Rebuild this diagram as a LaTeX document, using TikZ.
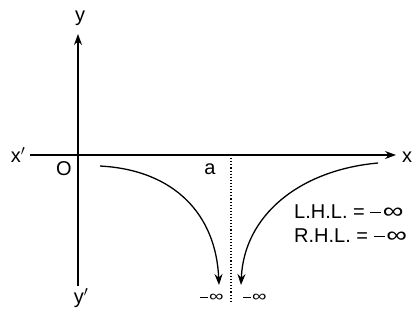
\documentclass[tikz,border=0pt]{standalone}
\usepackage{fontspec}
\setmainfont{Liberation Sans}
\usetikzlibrary{arrows.meta}
\newcommand{\minf}{\raisebox{0.27em}{\rule{0.55em}{0.075em}}\kern0.08em\scalebox{1.45}[1.1]{∞}}
\begin{document}
\begin{tikzpicture}[x=1pt,y=-1pt,
  axis/.style={line width=1.3pt,-{Stealth[length=11pt,width=8pt]}},
  curve/.style={line width=1.3pt,-{Stealth[length=11pt,width=8pt]}},
  lbl/.style={font=\fontsize{20}{22}\selectfont,inner sep=0pt},
  small/.style={font=\fontsize{14}{16}\selectfont,inner sep=0pt}]
\useasboundingbox (0,0) rectangle (417,325);
\coordinate (xs) at (30,155);
\coordinate (xe) at (396,155);
\coordinate (ys) at (78,286);
\coordinate (ye) at (78,34);
\draw[axis] (xs) -- (xe);
\draw[axis] (ys) -- (ye);
\node[lbl] (xl) at (407,157) {x};
\node[lbl] (xpl) at (18,155) {x$'$};
\node[lbl] (yl) at (80,18) {y};
\node[lbl] (ypl) at (81,298) {y$'$};
\node[lbl] (o) at (64,169) {O};
\node[lbl] (a) at (210,169) {a};
\coordinate (dt) at (231,155);
\coordinate (db) at (231,302);
\draw[line width=1.1pt,dotted] (dt) -- (db);
\coordinate (l1) at (100,166);
\coordinate (l2) at (219,285);
\draw[curve] (l1) .. controls (175,170) and (216,215) .. (l2);
\coordinate (r1) at (378,163);
\coordinate (r2) at (241,285);
\draw[curve] (r1) .. controls (300,170) and (244,215) .. (r2);
\node[small] (m1) at (212,298) {\minf};
\node[small] (m2) at (255,298) {\minf};
\node[lbl,anchor=west] (lhl) at (294,212) {L.H.L. = \minf};
\node[lbl,anchor=west] (rhl) at (294,236) {R.H.L. = \minf};
\end{tikzpicture}
\end{document}
